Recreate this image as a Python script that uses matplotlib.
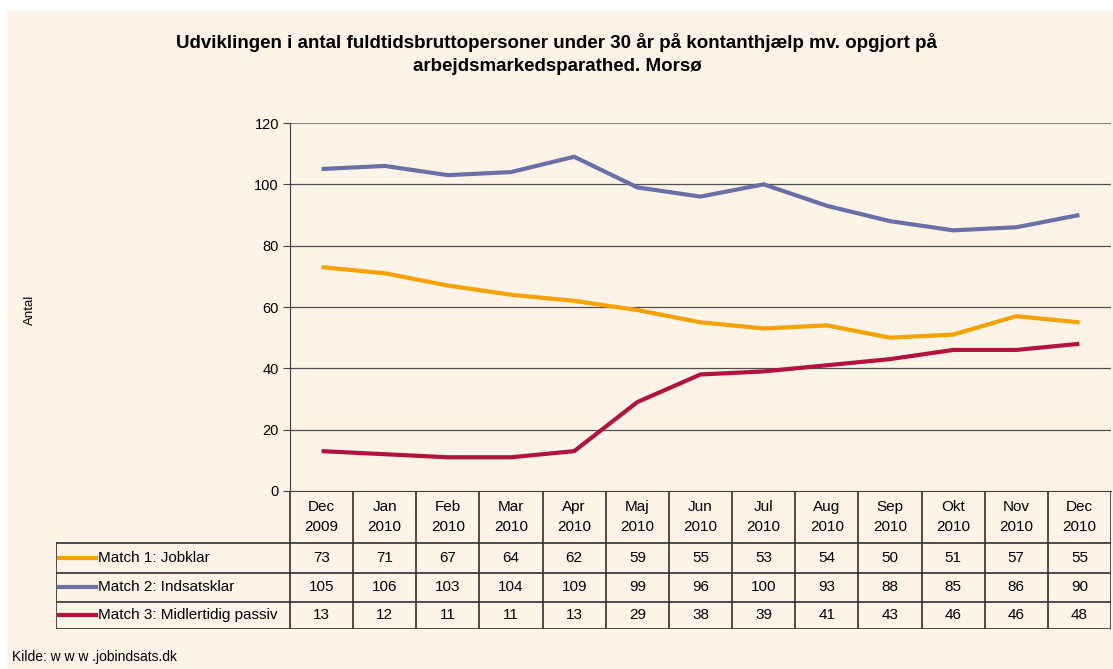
import matplotlib.pyplot as plt
from matplotlib.patches import Rectangle

plt.rcParams['font.family'] = ['Liberation Sans', 'DejaVu Sans']

# data
months = ['Dec\n2009', 'Jan\n2010', 'Feb\n2010', 'Mar\n2010', 'Apr\n2010', 'Maj\n2010',
          'Jun\n2010', 'Jul\n2010', 'Aug\n2010', 'Sep\n2010', 'Okt\n2010', 'Nov\n2010',
          'Dec\n2010']
series_names = ['Match 1: Jobklar', 'Match 2: Indsatsklar', 'Match 3: Midlertidig passiv']
jobklar = [73, 71, 67, 64, 62, 59, 55, 53, 54, 50, 51, 57, 55]
indsatsklar = [105, 106, 103, 104, 109, 99, 96, 100, 93, 88, 85, 86, 90]
passiv = [13, 12, 11, 11, 13, 29, 38, 39, 41, 43, 46, 46, 48]
colors = ['#F5A200', '#6A6FA8', '#B3123F']

W, H = 1113, 669
bg = '#FDF3E6'
fig = plt.figure(figsize=(W / 100, H / 100), dpi=100, facecolor='white')
fig.patches.append(Rectangle((7 / W, 0), 1, 1 - 11 / H, transform=fig.transFigure,
                             facecolor=bg, edgecolor='none', zorder=-10))

def px(x0, y0, x1, y1):
    return [x0 / W, 1 - y1 / H, (x1 - x0) / W, (y1 - y0) / H]

# line chart
ax = fig.add_axes(px(290, 123, 1111, 491))
ax.set_facecolor(bg)
x = list(range(len(months)))
for vals, c in zip([jobklar, indsatsklar, passiv], colors):
    ax.plot(x, vals, color=c, lw=3, solid_capstyle='butt', zorder=3)
ax.set_xlim(-0.5, len(months) - 0.5)
ax.set_ylim(0, 120)
ax.set_yticks(range(0, 121, 20))
ax.set_xticks([])
ax.tick_params(axis='y', labelsize=10.5, length=5, color='#404040', pad=3)
for y in range(20, 121, 20):
    ax.axhline(y, color='#505050' if y < 120 else '#808080', lw=0.9 if y < 120 else 1.5, zorder=1)
for s in ['top', 'right']:
    ax.spines[s].set_visible(False)
ax.spines['left'].set_color('#404040')
ax.spines['bottom'].set_color('#404040')

# data table
unit = (1111 - 290) / len(months)
left = -0.5 - (290 - 56) / unit
tax = fig.add_axes(px(56, 491, 1111, 629))
tax.set_xlim(left, len(months) - 0.5)
tax.set_ylim(629, 491)
tax.axis('off')
lc = '#303030'
rows = [543, 573, 602, 629]
tax.plot([left, left], [543, 629], color=lc, lw=1.2)
for i in range(len(months) + 1):
    tax.plot([i - 0.5, i - 0.5], [491, 629], color=lc, lw=1.2)
for r in rows:
    tax.plot([left, len(months) - 0.5], [r, r], color=lc, lw=1.2)
for i, m in enumerate(months):
    tax.text(i, 517, m, ha='center', va='center', fontsize=11, linespacing=1.6)
sample = 37 / unit
for k, (name, vals, c) in enumerate(zip(series_names, [jobklar, indsatsklar, passiv], colors)):
    yc = (rows[k] + rows[k + 1]) / 2
    tax.plot([left + 3 / unit, left + 3 / unit + sample], [yc, yc], color=c, lw=3)
    tax.text(left + 3 / unit + sample + 2 / unit, yc, name, ha='left', va='center', fontsize=11)
    for i, v in enumerate(vals):
        tax.text(i, yc, str(v), ha='center', va='center', fontsize=11)

fig.text(557 / W, 1 - 54 / H,
         'Udviklingen i antal fuldtidsbruttopersoner under 30 år på kontanthjælp mv. opgjort på\narbejdsmarkedsparathed. Morsø',
         ha='center', va='center', fontsize=13.5, fontweight='bold', linespacing=1.5)
fig.text(30 / W, 1 - 310 / H, 'Antal', rotation=90, ha='center', va='center', fontsize=9.5)
fig.text(12 / W, 1 - 657 / H, 'Kilde: w w w .jobindsats.dk', ha='left', va='center', fontsize=10)

fig.savefig('out.png', dpi=100, facecolor='white')
